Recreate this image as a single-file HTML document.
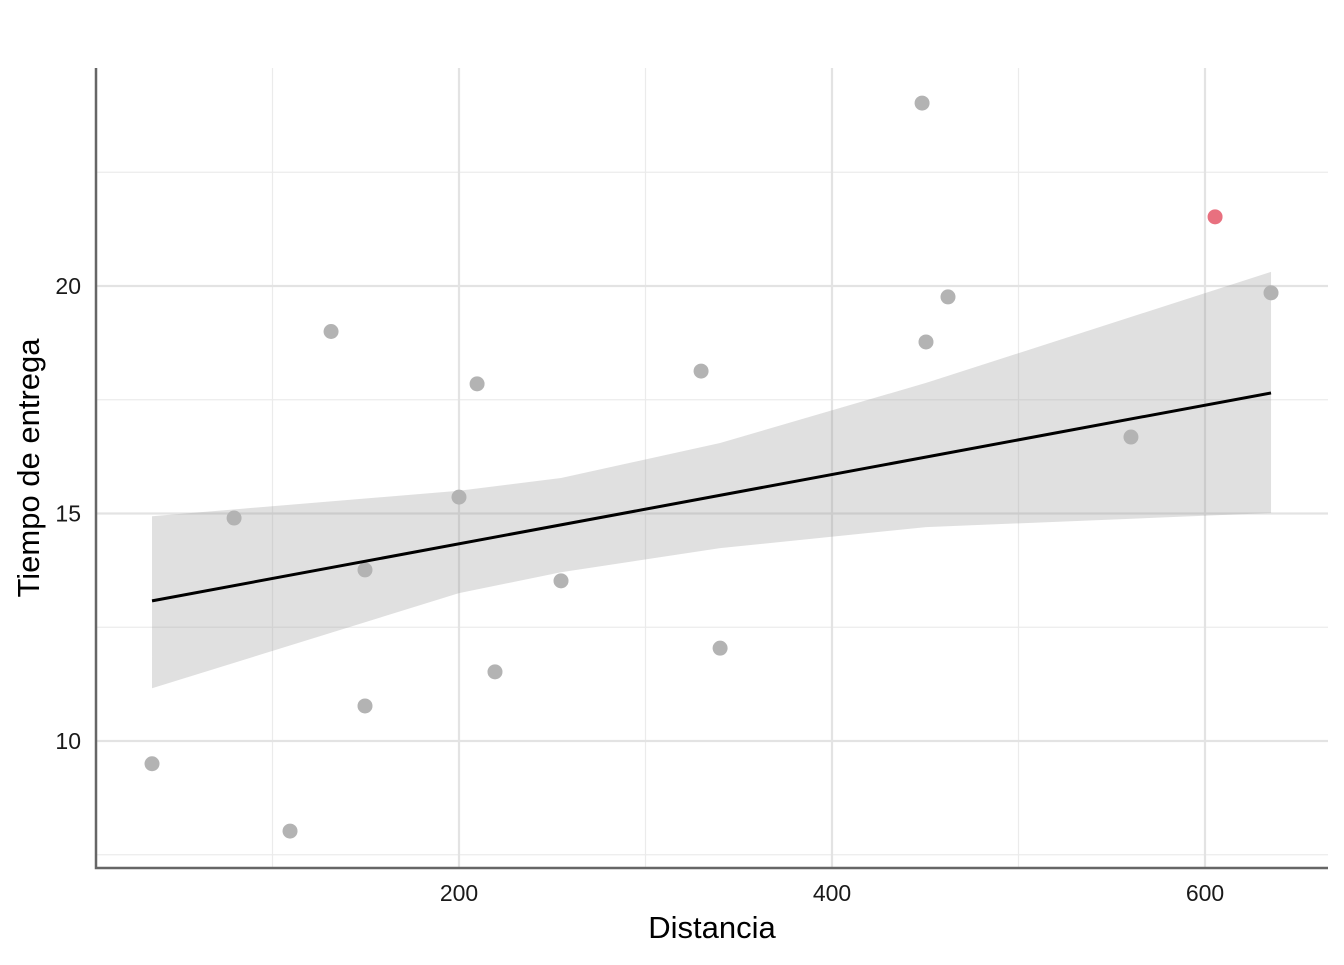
<!DOCTYPE html>
<html><head><meta charset="utf-8"><style>
body{margin:0;background:#fff;font-family:"Liberation Sans",Arial,sans-serif}
svg text{font-family:"Liberation Sans",Arial,sans-serif}
</style></head><body>
<svg id="chart" width="1344" height="960"></svg>
<script>
const xs=[35.4,79.4,109.4,131.4,149.6,149.6,200,209.7,219.3,254.7,329.8,340,448.3,450.4,462.2,560.3,605.4,635.4];
const ys=[9.5,14.9,8.02,19.0,13.76,10.77,15.36,17.85,11.52,13.52,18.13,12.04,24.02,18.77,19.76,16.68,21.52,19.85];
const highlight=[false,false,false,false,false,false,false,false,false,false,false,false,false,false,false,false,true,false];
const fitX=[35.4,635.4];
const fitY=[13.08,17.65];
const bandX=[35.4,200,254.7,340,450.4,635.4];
const bandUpper=[14.94,15.5,15.78,16.55,17.87,20.31];
const bandLower=[11.16,13.25,13.71,14.24,14.70,15.01];
const xTicks=[200,400,600];
const xMinor=[100,300,500];
const yTicks=[10,15,20];
const yMinor=[7.5,12.5,17.5,22.5];

const NS="http://www.w3.org/2000/svg";
const svg=document.getElementById('chart');
const X=v=>86+v*1.865;
const Y=v=>286+(20-v)*45.5;
const L=96,R=1328,T=68,B=868;
function mk(t,a,p){const e=document.createElementNS(NS,t);for(const k in a)e.setAttribute(k,a[k]);(p||svg).appendChild(e);return e;}

xMinor.forEach(v=>{const e=mk('line',{x1:X(v),x2:X(v),y1:T,y2:B,stroke:'#ebebeb','stroke-width':1.2});

});
yMinor.forEach(v=>{const e=mk('line',{x1:L,x2:R,y1:Y(v),y2:Y(v),stroke:'#ebebeb','stroke-width':1.2});

});
xTicks.forEach(v=>{const e=mk('line',{x1:X(v),x2:X(v),y1:T,y2:B,stroke:'#e3e3e3','stroke-width':2.2});


const t=mk('text',{x:X(v),y:901,'text-anchor':'middle','font-size':23,fill:'#1a1a1a'});t.textContent=v;

});
yTicks.forEach(v=>{const e=mk('line',{x1:L,x2:R,y1:Y(v),y2:Y(v),stroke:'#e3e3e3','stroke-width':2.2});


const t=mk('text',{x:81,y:Y(v)+8,'text-anchor':'end','font-size':23,fill:'#1a1a1a'});t.textContent=v;

});

let d='';
bandX.forEach((v,i)=>{d+=(i?'L':'M')+X(v)+','+Y(bandUpper[i]);});
for(let i=bandX.length-1;i>=0;i--)d+='L'+X(bandX[i])+','+Y(bandLower[i]);
const band=mk('path',{d:d+'Z',fill:'#999','fill-opacity':0.3});



xs.forEach((v,i)=>{const c=mk('circle',{cx:X(v),cy:Y(ys[i]),r:7.5,fill:highlight[i]?'#e8707f':'#b3b3b3'});

});

const fl=mk('line',{x1:X(fitX[0]),y1:Y(fitY[0]),x2:X(fitX[1]),y2:Y(fitY[1]),stroke:'#000','stroke-width':3});



const ax=mk('path',{d:`M${L},${T}L${L},${B}L${R},${B}`,fill:'none',stroke:'#666','stroke-width':2.5});



const xt=mk('text',{x:712,y:938,'text-anchor':'middle','font-size':31,fill:'#000'});xt.textContent='Distancia';


const yt=mk('text',{x:0,y:0,'text-anchor':'middle','font-size':31,fill:'#000',transform:'translate(39,468) rotate(-90)'});yt.textContent='Tiempo de entrega';


</script>
</body></html>
